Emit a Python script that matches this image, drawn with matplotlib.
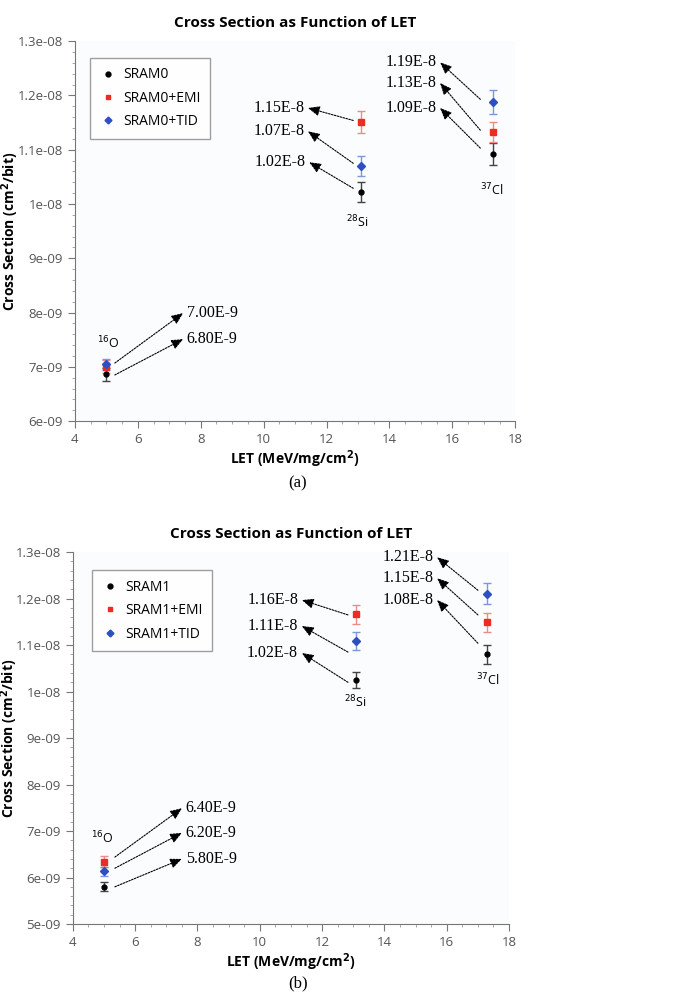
import matplotlib
matplotlib.use("Agg")
import matplotlib.pyplot as plt
from matplotlib.lines import Line2D
from matplotlib.ticker import FuncFormatter, MultipleLocator

# valores
let_vals = [5.0, 13.1, 17.3]
ions = [r"$^{16}$O", r"$^{28}$Si", r"$^{37}$Cl"]

sram0 = [6.86e-9, 1.022e-8, 1.092e-8]
sram0_emi = [7.00e-9, 1.151e-8, 1.133e-8]
sram0_tid = [7.05e-9, 1.070e-8, 1.188e-8]
err0 = [1.2e-10, 1.9e-10, 2.0e-10]
err0_emi = [1.2e-10, 2.0e-10, 1.9e-10]
err0_tid = [1.0e-10, 1.8e-10, 2.2e-10]

sram1 = [5.80e-9, 1.025e-8, 1.080e-8]
sram1_emi = [6.34e-9, 1.166e-8, 1.149e-8]
sram1_tid = [6.13e-9, 1.109e-8, 1.211e-8]
err1 = [1.0e-10, 1.8e-10, 2.0e-10]
err1_emi = [1.2e-10, 2.1e-10, 2.0e-10]
err1_tid = [1.0e-10, 1.9e-10, 2.3e-10]

# anotacoes (texto, ponta da seta, inicio da seta)
ann_a_txt = ["1.15E-8", "1.07E-8", "1.02E-8", "1.19E-8", "1.13E-8", "1.09E-8", "7.00E-9", "6.80E-9"]
ann_a_head = [(11.41, 1.177e-8), (11.41, 1.134e-8), (11.45, 1.077e-8),
              (15.61, 1.261e-8), (15.61, 1.223e-8), (15.61, 1.177e-8),
              (7.44, 7.99e-9), (7.44, 7.51e-9)]
ann_a_tail = [(12.85, 1.154e-8), (12.85, 1.075e-8), (12.85, 1.029e-8),
              (16.89, 1.193e-8), (16.89, 1.136e-8), (16.89, 1.103e-8),
              (5.27, 7.07e-9), (5.27, 6.85e-9)]
ion_a_pos = [(5.05, 7.44e-9), (12.97, 9.67e-9), (17.27, 1.026e-8)]

ann_b_txt = ["1.16E-8", "1.11E-8", "1.02E-8", "1.21E-8", "1.15E-8", "1.08E-8", "6.40E-9", "6.20E-9", "5.80E-9"]
ann_b_head = [(11.35, 1.197e-8), (11.35, 1.141e-8), (11.35, 1.083e-8),
              (15.69, 1.289e-8), (15.69, 1.244e-8), (15.69, 1.197e-8),
              (7.5, 7.49e-9), (7.5, 6.96e-9), (7.5, 6.40e-9)]
ann_b_tail = [(12.83, 1.165e-8), (12.83, 1.085e-8), (12.83, 1.020e-8),
              (17.0, 1.218e-8), (17.0, 1.165e-8), (17.0, 1.104e-8),
              (5.35, 6.44e-9), (5.35, 6.20e-9), (5.35, 5.80e-9)]
ion_b_pos = [(4.93, 6.85e-9), (13.06, 9.77e-9), (17.33, 1.025e-8)]

plt.rcParams['font.family'] = ['Open Sans', 'DejaVu Sans']
cinza = "#555555"


def painel(ax, nome, base, emi, tid, eb, ee, et, ymin, txts, heads, tails, ionpos, leg_anchor, ylab_x):
    ax.set_facecolor("#fbfcfd")
    ax.errorbar(let_vals, base, yerr=eb, fmt='o', color='black', ecolor='#444444',
                ms=3.5, capsize=3, elinewidth=1)
    ax.errorbar(let_vals, emi, yerr=ee, fmt='s', color='#ee2a24', ecolor='#f08a88',
                ms=4, capsize=3, elinewidth=1)
    ax.errorbar(let_vals, tid, yerr=et, fmt='D', color='#2d4fbf', ecolor='#7f95dc',
                ms=4, capsize=3, elinewidth=1)

    for t, h, tl in zip(txts, heads, tails):
        ax.annotate("", xy=h, xytext=tl,
                    arrowprops=dict(arrowstyle="-|>,head_length=0.7,head_width=0.3",
                                    ls=(0, (1.5, 1.2)), lw=0.8, color='black',
                                    shrinkA=0, shrinkB=0))
        if h[0] > tl[0]:
            ax.text(h[0] + 0.12, h[1], t, ha='left', va='center',
                    family='Liberation Serif', fontsize=11.5)
        else:
            ax.text(h[0] - 0.12, h[1], t, ha='right', va='center',
                    family='Liberation Serif', fontsize=11.5)

    for nm, p in zip(ions, ionpos):
        ax.text(p[0], p[1], nm, ha='center', va='center', fontsize=9)

    ax.set_xlim(4, 18)
    ax.set_ylim(ymin, 1.3e-8)
    ax.xaxis.set_major_locator(MultipleLocator(2))
    ax.xaxis.set_minor_locator(MultipleLocator(0.5))
    ax.yaxis.set_major_locator(MultipleLocator(1e-9))
    ax.yaxis.set_minor_locator(MultipleLocator(2e-10))
    ax.yaxis.set_major_formatter(FuncFormatter(lambda v, p: "{:g}".format(round(v, 12))))
    ax.yaxis.get_offset_text().set_visible(False)
    ax.spines['top'].set_visible(False)
    ax.spines['right'].set_visible(False)
    ax.spines['left'].set_color('#777777')
    ax.spines['bottom'].set_color('#777777')
    ax.tick_params(which='major', length=5, color='#777777', labelcolor=cinza, labelsize=9.5)
    ax.tick_params(which='minor', length=2.5, color='#999999')
    ax.set_title("Cross Section as Function of LET", fontsize=11, fontweight='bold', pad=10)
    ax.set_xlabel(r"LET (MeV/mg/cm$^\mathbf{2}$)", fontsize=10, fontweight='bold', labelpad=2)
    ax.set_ylabel(r"Cross Section (cm$^\mathbf{2}$/bit)", fontsize=10, fontweight='bold')
    ax.yaxis.set_label_coords(ylab_x, 0.5)

    handles = [Line2D([], [], ls='none', marker='o', ms=3.5, color='black'),
               Line2D([], [], ls='none', marker='s', ms=3.5, color='#ee2a24'),
               Line2D([], [], ls='none', marker='D', ms=3.5, color='#2d4fbf')]
    leg = ax.legend(handles, [nome, nome + "+EMI", nome + "+TID"],
                    loc='upper left', bbox_to_anchor=leg_anchor, fontsize=10,
                    fancybox=False, edgecolor='#888888', handletextpad=0.5,
                    labelspacing=0.6, borderpad=0.7, handlelength=1.2)
    leg.get_frame().set_linewidth(1.0)


fig = plt.figure(figsize=(6.87, 10.05), dpi=100)
ax1 = fig.add_axes([0.109, 0.581, 0.641, 0.378])
ax2 = fig.add_axes([0.106, 0.0806, 0.635, 0.370])

painel(ax1, "SRAM0", sram0, sram0_emi, sram0_tid, err0, err0_emi, err0_tid, 6e-9,
       ann_a_txt, ann_a_head, ann_a_tail, ion_a_pos, (0.018, 0.975), -0.123)
painel(ax2, "SRAM1", sram1, sram1_emi, sram1_tid, err1, err1_emi, err1_tid, 5e-9,
       ann_b_txt, ann_b_head, ann_b_tail, ion_b_pos, (0.028, 0.97), -0.12)

fig.text(298 / 687, 1 - 483 / 1005, "(a)", ha='center', va='center',
         family='Liberation Serif', fontsize=12)
fig.text(298 / 687, 1 - 983 / 1005, "(b)", ha='center', va='center',
         family='Liberation Serif', fontsize=12)

fig.savefig("out.png", dpi=100)
